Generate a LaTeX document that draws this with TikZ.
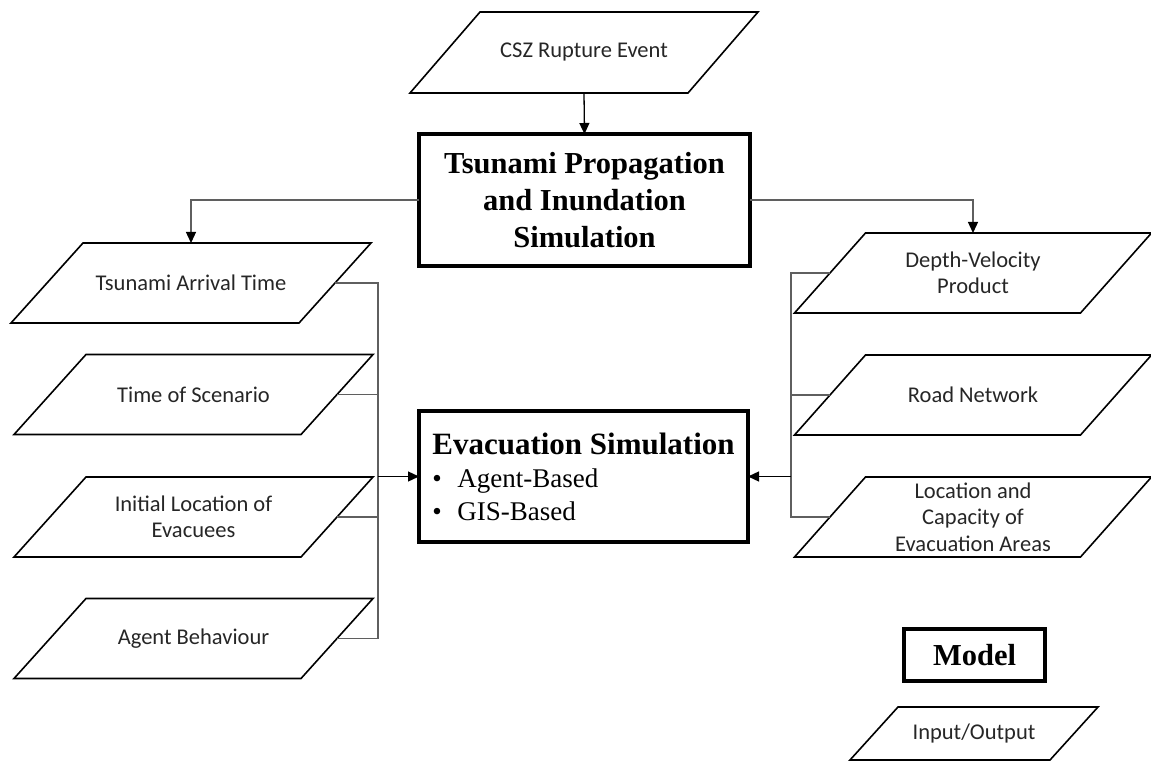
\documentclass[tikz,border=0pt]{standalone}
\usepackage{fontspec}
\setmainfont{Liberation Serif}
\newfontfamily\calfont{Carlito}
\usetikzlibrary{arrows.meta, shapes.geometric, positioning}
\definecolor{busgray}{RGB}{95,95,95}

\begin{document}
\begin{tikzpicture}[x=1pt, y=-1pt,
        io/.style={inner sep=0pt, outer sep=0pt, minimum width=#1, minimum height=80pt,
                   align=center, text=black!85,
                   font=\calfont\fontsize{22.5}{26.5}\selectfont},
        io/.default=287pt,
        mdl/.style={draw, line width=4pt, inner sep=0pt, outer sep=0pt, align=center,
                    font=\bfseries\fontsize{30.5}{37}\selectfont},
        arr/.style={-{Triangle[length=11pt, width=10pt, color=black]}, line width=1.3pt},
        bus/.style={line width=1.2pt, busgray}
      ]
        \useasboundingbox (0,0) rectangle (1151,762);
        % models
        \node[io=278pt, minimum height=81pt] (csz) at (584,52.5) {CSZ Rupture Event};
        \node[mdl, minimum width=331pt, minimum height=132pt] (tpis) at (584.5,200)
          {Tsunami Propagation\\and Inundation\\Simulation};
        \node[mdl, minimum width=329pt, minimum height=131pt, align=left,
              font=\fontsize{27}{33}\selectfont] (evac) at (583.5,476.5)
          {{\bfseries\fontsize{31}{33}\selectfont Evacuation Simulation}\\
           \makebox[25pt][l]{\textbullet}Agent-Based\\
           \makebox[25pt][l]{\textbullet}GIS-Based};
        % inputs, left
        \node[io=288pt] (tat) at (191,283)   {Tsunami Arrival Time};
        \node[io] (tos) at (193.5,394.5) {Time of Scenario};
        \node[io] (ile) at (193.5,517)   {Initial Location of\\Evacuees};
        \node[io] (agb) at (193.5,638.5) {Agent Behaviour};
        % inputs, right
        \node[io=286pt] (dvp) at (973,273) {Depth-Velocity\\Product};
        \node[io=286pt] (rdn) at (973,395) {Road Network};
        \node[io=286pt] (lce) at (973,517) {Location and\\Capacity of\\Evacuation Areas};
        % legend
        \node[mdl, minimum width=141pt, minimum height=52pt] (model) at (974.5,655) {Model};
        \node[io=200pt, minimum height=53pt] (iout) at (974,733.5) {Input/Output};
        % parallelogram outlines
        \foreach \n/\s in {csz/35, tat/36, tos/36, ile/36, agb/36,
                           dvp/35.5, rdn/35.5, lce/35.5, iout/24}
          \draw[line width=1.6pt, line join=miter]
            ([xshift=\s pt]\n.north west) -- ([xshift=\s pt]\n.north east)
            -- ([xshift=-\s pt]\n.south east) -- ([xshift=-\s pt]\n.south west) -- cycle;
        \coordinate (lbus) at (378,476.5);
        \coordinate (rbus) at (791,476.5);
        % connectors
        \draw[arr] (csz.south) -- (tpis.north);
        \draw[arr, busgray] (tpis.west) -| (tat.north);
        \draw[arr, busgray] (tpis.east) -| (dvp.north);
        \foreach \n in {tat, tos, ile, agb}
          \draw[bus] (\n.east) -| (lbus);
        \foreach \n in {dvp, rdn, lce}
          \draw[bus] (\n.west) -| (rbus);
        \draw[arr] (lbus) -- (evac.west);
        \draw[arr] (rbus) -- (evac.east);
      \end{tikzpicture}
\end{document}
